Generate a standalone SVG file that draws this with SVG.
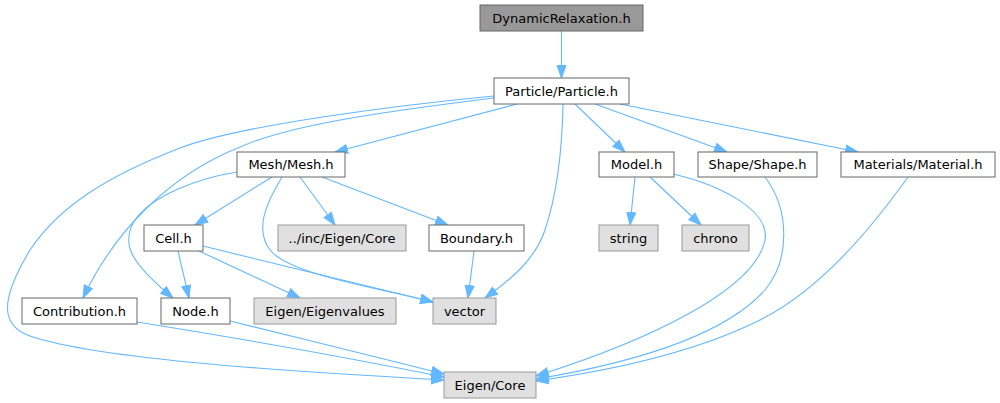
<svg xmlns="http://www.w3.org/2000/svg" width="1000" height="403" viewBox="0 0 1000 403">
<style>
.n rect{fill:#ffffff;stroke:#666666;stroke-width:1}
.r rect{fill:#999999;stroke:#666666;stroke-width:1}
.x rect{fill:#e0e0e0;stroke:#999999;stroke-width:1}
text{font-family:"DejaVu Sans","Liberation Sans",sans-serif;font-size:13px;fill:#000000;text-anchor:middle}
#edges path{fill:none;stroke:#63b8ff;stroke-width:1.1;marker-end:url(#arr)}
</style>
<defs>
<marker id="arr" markerUnits="userSpaceOnUse" markerWidth="14" markerHeight="12" viewBox="0 0 14 12" refX="13" refY="5.5" orient="auto">
<path d="M0.5,1 L13,5.5 L0.5,10 z" fill="#63b8ff" stroke="#63b8ff" stroke-width="1"/>
</marker>
</defs>
<rect width="1000" height="403" fill="#ffffff"/>
<g id="edges">
<path d="M561.5,31 L561.5,78"/>
<path d="M517,104 L335,152"/>
<path d="M494,98 C380,112 290,125 240,147 C170,175 115,230 83,298"/>
<path d="M494,96 C400,105 240,125 180,148 C110,175 60,205 30,250 C0,300 0,325 30,336 C100,360 300,372 444,380"/>
<path d="M563,104 C562,160 555,200 545,230 C535,260 510,280 485,298"/>
<path d="M575,104 L625,152"/>
<path d="M595,104 L727,152"/>
<path d="M620,104 L858,152"/>
<path d="M272,177 L195,225"/>
<path d="M300,177 L335,225"/>
<path d="M322,177 L448,225"/>
<path d="M282,177 C265,205 255,230 270,250 C290,275 380,288 433,302"/>
<path d="M237,172 C200,178 150,195 133,223 C122,245 130,262 173,298"/>
<path d="M178,251 L189,298"/>
<path d="M199,251 L300,298"/>
<path d="M203,246 C280,265 370,287 433,302"/>
<path d="M474,251 L468,298"/>
<path d="M635,177 L630,225"/>
<path d="M650,177 L701,225"/>
<path d="M673,174 C720,185 770,210 765,240 C755,290 650,340 536,376"/>
<path d="M765,177 C790,210 790,260 765,290 C720,340 620,365 536,379"/>
<path d="M908,177 C870,230 820,290 760,320 C690,355 600,372 536,381"/>
<path d="M137,322 C250,340 370,362 444,377"/>
<path d="M230,321 C300,338 380,358 444,374"/>
</g>
<g id="node-dynamicrelaxation" class="r"><rect x="480" y="5" width="163" height="26"/><text x="561.5" y="22.5">DynamicRelaxation.h</text></g>
<g id="node-particle" class="n"><rect x="494" y="78" width="135" height="26"/><text x="561.5" y="95.5">Particle/Particle.h</text></g>
<g id="node-mesh" class="n"><rect x="237" y="152" width="108" height="25"/><text x="291" y="169">Mesh/Mesh.h</text></g>
<g id="node-model" class="n"><rect x="599" y="152" width="75" height="25"/><text x="636.5" y="169">Model.h</text></g>
<g id="node-shape" class="n"><rect x="698" y="152" width="119" height="25"/><text x="757.5" y="169">Shape/Shape.h</text></g>
<g id="node-material" class="n"><rect x="841" y="152" width="154" height="25"/><text x="918" y="169">Materials/Material.h</text></g>
<g id="node-cell" class="n"><rect x="144" y="225" width="59" height="26"/><text x="173.5" y="242.5">Cell.h</text></g>
<g id="node-inceigencore" class="x"><rect x="278" y="225" width="128" height="26"/><text x="342" y="242.5">../inc/Eigen/Core</text></g>
<g id="node-boundary" class="n"><rect x="429" y="225" width="95" height="26"/><text x="476.5" y="242.5">Boundary.h</text></g>
<g id="node-string" class="x"><rect x="599" y="225" width="59" height="26"/><text x="628.5" y="242.5">string</text></g>
<g id="node-chrono" class="x"><rect x="682" y="225" width="67" height="26"/><text x="715.5" y="242.5">chrono</text></g>
<g id="node-contribution" class="n"><rect x="22" y="298" width="115" height="26"/><text x="79.5" y="315.5">Contribution.h</text></g>
<g id="node-node" class="n"><rect x="161" y="298" width="69" height="26"/><text x="195.5" y="315.5">Node.h</text></g>
<g id="node-eigenvalues" class="x"><rect x="254" y="298" width="142" height="26"/><text x="325" y="315.5">Eigen/Eigenvalues</text></g>
<g id="node-vector" class="x"><rect x="433" y="298" width="63" height="26"/><text x="464.5" y="315.5">vector</text></g>
<g id="node-eigencore" class="x"><rect x="444" y="372" width="92" height="26"/><text x="490" y="389.5">Eigen/Core</text></g>
</svg>
